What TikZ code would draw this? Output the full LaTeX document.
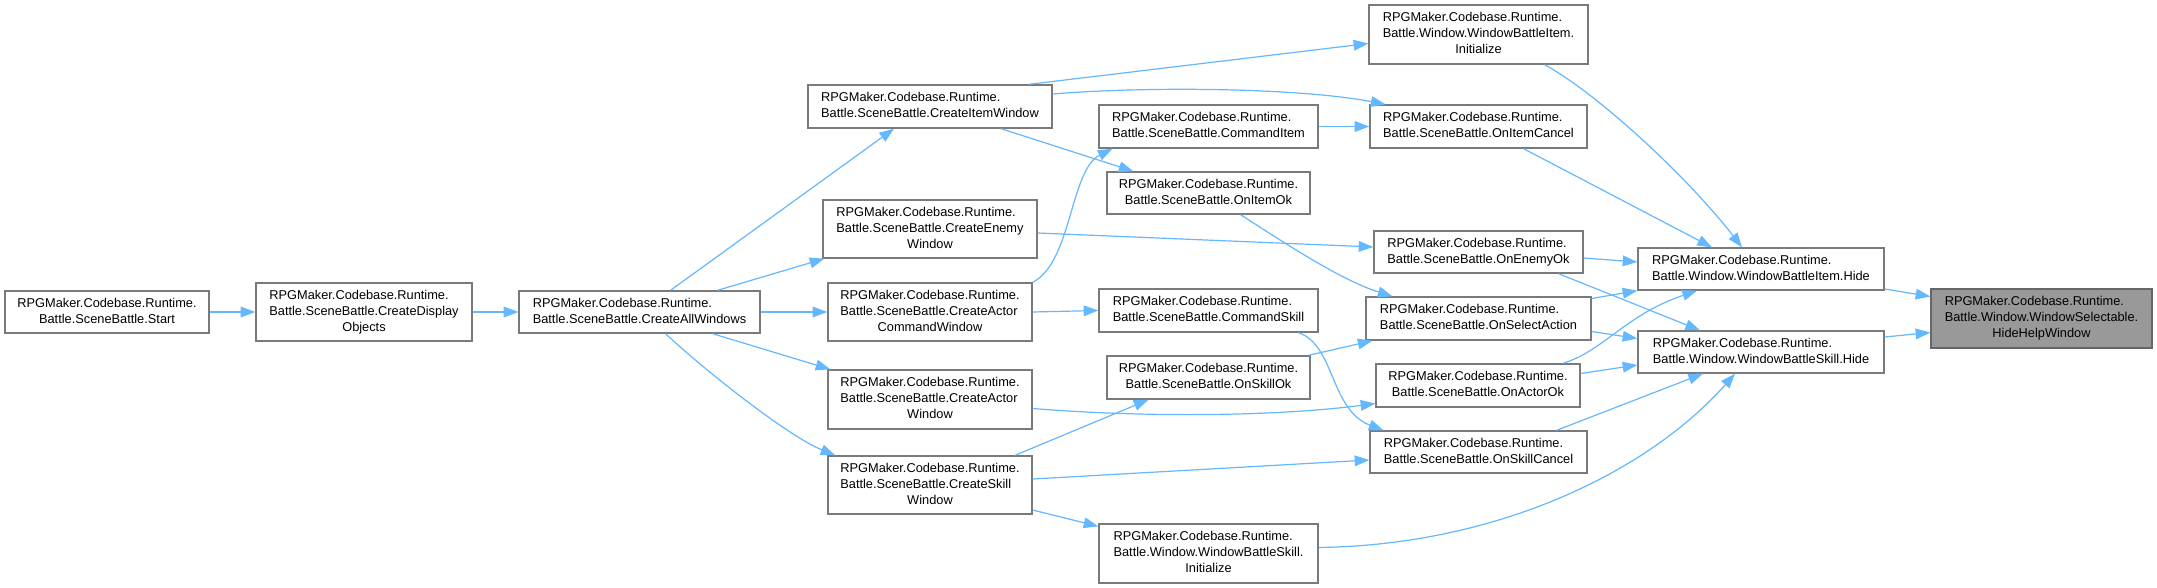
\documentclass[tikz,border=0pt]{standalone}
\usepackage{fontspec}
\setmainfont{Liberation Sans}
\usetikzlibrary{arrows.meta,calc}
\definecolor{edgeblue}{HTML}{63B8FF}
\definecolor{nodeborder}{HTML}{7A7A7A}
\definecolor{hlfill}{HTML}{999999}
\definecolor{hlborder}{HTML}{666666}
\newcommand\lbl[2]{\begin{tabular}{@{}l@{}}#1\\\multicolumn{1}{@{}c@{}}{#2}\end{tabular}}
\begin{document}
\begin{tikzpicture}[x=0.75pt,y=-0.75pt,
  fnode/.style={draw=nodeborder,line width=1pt,fill=white,inner sep=0pt,font=\fontsize{9.6}{12}\selectfont},
  hlnode/.style={fnode,draw=hlborder,fill=hlfill},
  bx/.style n args={4}{at={({(#1+#3)/2},{(#2+#4)/2})},minimum width={(#3-#1)*0.75pt},minimum height={(#4-#2)*0.75pt}},
  edge/.style={draw=edgeblue,line width=0.9pt,-{Triangle[length=11pt,width=8pt]}}]
\fill[white] (0,0) rectangle (2157,588);
\useasboundingbox (0,0) rectangle (2157,588);

\node[fnode,bx={5}{291}{209}{333}] (start) {\lbl{RPGMaker.Codebase.Runtime.}{Battle.SceneBattle.Start}};
\node[fnode,bx={256}{283}{472}{341}] (cdo) {\lbl{RPGMaker.Codebase.Runtime.\\Battle.SceneBattle.CreateDisplay}{Objects}};
\node[fnode,bx={519}{291}{760}{333}] (caw) {\lbl{RPGMaker.Codebase.Runtime.}{Battle.SceneBattle.CreateAllWindows}};
\node[fnode,bx={808}{85}{1052}{128}] (ciw) {\lbl{RPGMaker.Codebase.Runtime.}{Battle.SceneBattle.CreateItemWindow}};
\node[fnode,bx={823}{200}{1037}{258}] (cew) {\lbl{RPGMaker.Codebase.Runtime.\\Battle.SceneBattle.CreateEnemy}{Window}};
\node[fnode,bx={828}{283}{1032}{341}] (cacw) {\lbl{RPGMaker.Codebase.Runtime.\\Battle.SceneBattle.CreateActor}{CommandWindow}};
\node[fnode,bx={828}{370}{1032}{429}] (caw2) {\lbl{RPGMaker.Codebase.Runtime.\\Battle.SceneBattle.CreateActor}{Window}};
\node[fnode,bx={828}{456}{1032}{514}] (csw) {\lbl{RPGMaker.Codebase.Runtime.\\Battle.SceneBattle.CreateSkill}{Window}};
\node[fnode,bx={1369}{5}{1588}{64}] (wbii) {\lbl{RPGMaker.Codebase.Runtime.\\Battle.Window.WindowBattleItem.}{Initialize}};
\node[fnode,bx={1099}{105}{1318}{148}] (cmi) {\lbl{RPGMaker.Codebase.Runtime.}{Battle.SceneBattle.CommandItem}};
\node[fnode,bx={1370}{105}{1587}{148}] (oic) {\lbl{RPGMaker.Codebase.Runtime.}{Battle.SceneBattle.OnItemCancel}};
\node[fnode,bx={1107}{172}{1310}{214}] (oio) {\lbl{RPGMaker.Codebase.Runtime.}{Battle.SceneBattle.OnItemOk}};
\node[fnode,bx={1374}{231}{1583}{273}] (oeo) {\lbl{RPGMaker.Codebase.Runtime.}{Battle.SceneBattle.OnEnemyOk}};
\node[fnode,bx={1099}{289}{1318}{332}] (cms) {\lbl{RPGMaker.Codebase.Runtime.}{Battle.SceneBattle.CommandSkill}};
\node[fnode,bx={1366}{297}{1591}{340}] (osa) {\lbl{RPGMaker.Codebase.Runtime.}{Battle.SceneBattle.OnSelectAction}};
\node[fnode,bx={1107}{356}{1310}{399}] (oso) {\lbl{RPGMaker.Codebase.Runtime.}{Battle.SceneBattle.OnSkillOk}};
\node[fnode,bx={1376}{364}{1580}{407}] (oao) {\lbl{RPGMaker.Codebase.Runtime.}{Battle.SceneBattle.OnActorOk}};
\node[fnode,bx={1370}{431}{1587}{473}] (osc) {\lbl{RPGMaker.Codebase.Runtime.}{Battle.SceneBattle.OnSkillCancel}};
\node[fnode,bx={1099}{524}{1318}{583}] (wbsi) {\lbl{RPGMaker.Codebase.Runtime.\\Battle.Window.WindowBattleSkill.}{Initialize}};
\node[fnode,bx={1638}{248}{1884}{290}] (wbih) {\lbl{RPGMaker.Codebase.Runtime.}{Battle.Window.WindowBattleItem.Hide}};
\node[fnode,bx={1638}{331}{1884}{373}] (wbsh) {\lbl{RPGMaker.Codebase.Runtime.}{Battle.Window.WindowBattleSkill.Hide}};
\node[hlnode,bx={1931}{289}{2152}{348}] (hhw) {\lbl{RPGMaker.Codebase.Runtime.\\Battle.Window.WindowSelectable.}{HideHelpWindow}};

\draw[edge] (start.east) -- (cdo.west);
\draw[edge] (cdo.east) -- (caw.west);
\draw[edge] ($(caw.north)+(31,0)$) -- ($(ciw.south)+(-36,0)$);
\draw[edge] ($(caw.north)+(78,0)$) -- ($(cew.south west)+(2,0)$);
\draw[edge] (caw.east) -- (cacw.west);
\draw[edge] ($(caw.south)+(73,0)$) -- ($(caw2.north west)+(3,0)$);
\draw[edge] ($(caw.south)+(26,0)$) .. controls (710,375) and (790,437) .. ($(csw.north west)+(8,0)$);
\draw[edge] ($(ciw.north)+(99,0)$) -- ($(wbii.west)+(0,9)$);
\draw[edge] ($(ciw.east)+(0,-12.5)$) .. controls (1150,86) and (1300,88) .. ($(oic.north)+(-93,0)$);
\draw[edge] ($(ciw.south)+(71,0)$) -- ($(oio.north)+(-75,0)$);
\draw[edge] ($(cew.east)+(0,4)$) -- ($(oeo.west)+(0,-5)$);
\draw[edge] (cacw.north east) .. controls (1072,262) and (1070,170) .. ($(cmi.south)+(-96,0)$);
\draw[edge] (cacw.east) -- (cms.west);
\draw[edge] ($(caw2.east)+(0,9)$) .. controls (1150,418) and (1280,416) .. ($(oao.west)+(0,18)$);
\draw[edge] ($(csw.north)+(85,0)$) -- ($(oso.south)+(-60,0)$);
\draw[edge] ($(csw.east)+(0,-6)$) -- ($(osc.west)+(0,8)$);
\draw[edge] ($(csw.east)+(0,25)$) -- ($(wbsi.north west)+(0,3)$);
\draw[edge] (cmi.east) -- (oic.west);
\draw[edge] ($(oio.south)+(32,0)$) .. controls (1280,240) and (1340,280) .. ($(osa.north)+(-86,0)$);
\draw[edge] ($(cms.south)+(90,0)$) .. controls (1335,345) and (1330,410) .. ($(osc.north)+(-95,0)$);
\draw[edge] ($(oso.north east)+(-2,0)$) -- ($(osa.south)+(-106,0)$);
\draw[edge] ($(wbii.south)+(66,0)$) .. controls (1600,95) and (1690,180) .. ($(wbih.north)+(-19,0)$);
\draw[edge] ($(oic.south)+(45,0)$) -- ($(wbih.north)+(-49,0)$);
\draw[edge] ($(oeo.east)+(0,6)$) -- ($(wbih.west)+(0,-7)$);
\draw[edge] ($(oeo.south)+(80,0)$) -- ($(wbsh.north)+(-61,0)$);
\draw[edge] ($(osa.east)+(0,-20)$) -- (wbih.south west);
\draw[edge] ($(osa.east)+(0,13)$) -- ($(wbsh.west)+(0,-13.5)$);
\draw[edge] ($(oao.north)+(85,0)$) .. controls (1605,350) and (1625,315) .. ($(wbih.south)+(-64,0)$);
\draw[edge] ($(oao.east)+(0,-12)$) -- ($(wbsh.west)+(0,13)$);
\draw[edge] ($(osc.north)+(78,0)$) -- ($(wbsh.south)+(-58,0)$);
\draw[edge] ($(wbsi.east)+(0,-6)$) .. controls (1500,545) and (1650,470) .. ($(wbsh.south)+(-26,0)$);
\draw[edge] ($(wbih.east)+(0,20)$) -- ($(hhw.west)+(0,-22)$);
\draw[edge] ($(wbsh.east)+(0,-15)$) -- ($(hhw.west)+(0,14)$);
\end{tikzpicture}
\end{document}
